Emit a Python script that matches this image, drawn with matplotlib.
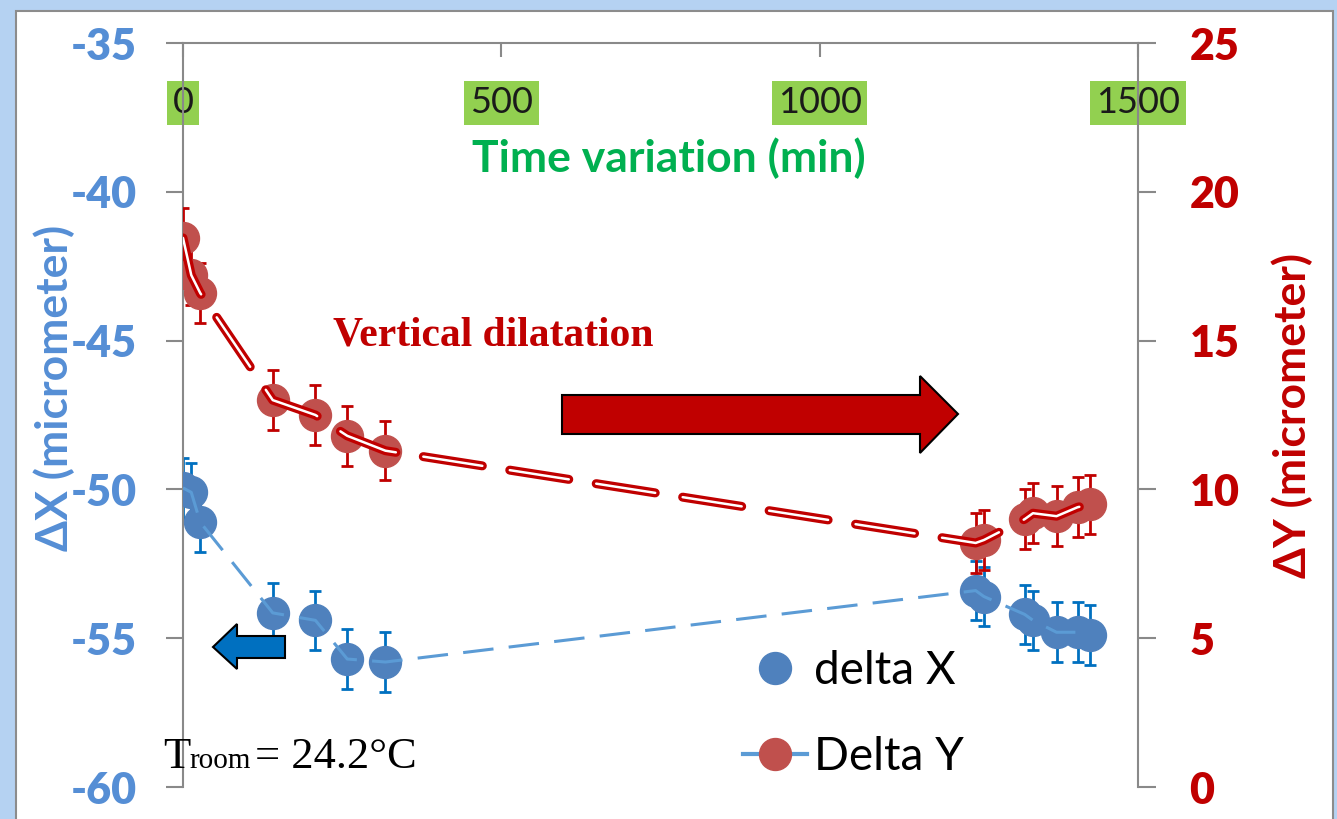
import matplotlib.pyplot as plt
from matplotlib.lines import Line2D
from matplotlib.patches import Polygon, Rectangle
import matplotlib.patheffects as pe

plt.rcParams['font.family'] = ['Lato', 'DejaVu Sans']
plt.rcParams['lines.scale_dashes'] = False
plt.rcParams['axes.unicode_minus'] = False

# data
time_min = [0, 13, 27, 141, 208, 258, 318, 1245, 1258, 1322, 1335, 1372, 1405, 1425]
delta_x = [-49.95, -50.1, -51.1, -54.15, -54.4, -55.7, -55.8,
           -53.4, -53.6, -54.2, -54.4, -54.8, -54.8, -54.9]
delta_y = [18.45, 17.2, 16.6, 13.0, 12.5, 11.8, 11.3,
           8.2, 8.3, 9.0, 9.2, 9.1, 9.4, 9.5]
err_x = 1.0
err_y = 1.0
x_ticks = [0, 500, 1000, 1500]
left_ticks = [-60, -55, -50, -45, -40, -35]
right_ticks = [0, 5, 10, 15, 20, 25]

W, H = 1337, 819


def px(x, y):
    # image pixel (from top-left) -> figure fraction
    return x / W, 1 - y / H


fig = plt.figure(figsize=(W / 100, H / 100), dpi=100)
fig.patch.set_facecolor('#B5D2F2')
fig.add_artist(Rectangle(px(16, 830), (1333 - 16) / W, (830 - 11) / H,
                         transform=fig.transFigure, facecolor='white',
                         edgecolor='#8C8C8C', lw=1.5, zorder=-1))

ax = fig.add_axes([183 / W, 1 - 787 / H, 955 / W, 744 / H])
ax2 = ax.twinx()
grey = '#898989'

# delta X (left axis)
ax.errorbar(time_min, delta_x, yerr=err_x, fmt='none', ecolor='#0070C0',
            elinewidth=2, capsize=4.5, capthick=2, zorder=2)
ax.plot(time_min, delta_x, 'o', ms=23, color='#4F81BD', zorder=3)
ax.plot(time_min, delta_x, color='#5B9BD5', lw=2.2, dashes=(22, 11), zorder=4)

# delta Y (right axis)
ax2.errorbar(time_min, delta_y, yerr=err_y, fmt='none', ecolor='#C00000',
             elinewidth=2, capsize=4.5, capthick=2, zorder=2)
ax2.plot(time_min, delta_y, 'o', ms=23, color='#C0504D', zorder=3)
ax2.plot(time_min, delta_y, color='white', lw=1.8, dashes=(43, 20),
         dash_capstyle='round', zorder=4,
         path_effects=[pe.Stroke(linewidth=6.5, foreground='#C00000'), pe.Normal()])

ax.set_xlim(0, 1500)
ax.set_ylim(-60, -35)
ax2.set_ylim(0, 25)

for s in ['bottom', 'right']:
    ax.spines[s].set_visible(False)
for s in ['top', 'left']:
    ax.spines[s].set_color(grey)
    ax.spines[s].set_linewidth(1.5)
for s in ['bottom', 'left', 'top']:
    ax2.spines[s].set_visible(False)
ax2.spines['right'].set_color(grey)
ax2.spines['right'].set_linewidth(1.5)

# top x axis with labels inside the plot
ax.xaxis.tick_top()
ax.set_xticks(x_ticks)
ax.tick_params(axis='x', direction='in', length=10, width=1.5, color=grey,
               pad=-55, labelsize=26, labelcolor='#1A1A1A')
for lab in ax.get_xticklabels():
    lab.set_bbox(dict(facecolor='#92D050', edgecolor='none', boxstyle='square,pad=0.16'))
ax.text(0.509, 0.8266, 'Time variation (min)', transform=ax.transAxes,
        ha='center', va='baseline', fontsize=32, fontweight='bold', color='#00B050')

ax.set_yticks(left_ticks)
ax.tick_params(axis='y', direction='out', length=12, width=1.5, color=grey,
               pad=21, labelsize=31, labelcolor='#558ED5')
for lab in ax.get_yticklabels():
    lab.set_fontweight('heavy')
ax2.set_yticks(right_ticks)
ax2.tick_params(axis='y', direction='out', length=13, width=1.5, color=grey,
                pad=24, labelsize=31, labelcolor='#C00000')
for lab in ax2.get_yticklabels():
    lab.set_fontweight('heavy')

ax.set_ylabel('ΔX (micrometer)', color='#558ED5', fontsize=32, fontweight='bold')
ax.yaxis.set_label_coords(-0.113, 0.536)
ax2.set_ylabel('ΔY (micrometer)', color='#C00000', fontsize=32, fontweight='bold')
ax2.yaxis.set_label_coords(1.140, 0.5)

# legend
handles = [Line2D([], [], marker='o', ls='none', ms=23, color='#4F81BD'),
           Line2D([], [], marker='o', ms=23, color='#5B9BD5', lw=3,
                  markerfacecolor='#C0504D', markeredgecolor='#C0504D')]
ax2.legend(handles, ['delta X', 'Delta Y'], loc='upper left',
           bbox_to_anchor=px(743, 650), bbox_transform=fig.transFigure,
           frameon=False, fontsize=33, handlelength=1.4, handletextpad=0.15,
           labelspacing=0.95, borderpad=0, borderaxespad=0)

# annotations
fig.text(*px(493, 345), 'Vertical dilatation', ha='center', va='baseline',
         family=['Liberation Serif'], fontweight='bold', fontsize=30, color='#C00000')
fig.text(*px(163, 768), 'T', ha='left', va='baseline',
         family=['Liberation Serif'], fontsize=32, color='black')
fig.text(*px(189, 768), 'room', ha='left', va='baseline',
         family=['Liberation Serif'], fontsize=21, color='black')
fig.text(*px(255, 768), '= 24.2°C', ha='left', va='baseline',
         family=['Liberation Serif'], fontsize=32, color='black')

red_arrow = [(562, 395), (920, 395), (920, 376), (958, 414), (920, 453),
             (920, 434), (562, 434)]
fig.add_artist(Polygon([px(*p) for p in red_arrow], closed=True,
                       transform=fig.transFigure, facecolor='#C00000',
                       edgecolor='black', lw=1.5, zorder=5))
blue_arrow = [(285, 636), (237, 636), (237, 624), (213, 647), (237, 669),
              (237, 658), (285, 658)]
fig.add_artist(Polygon([px(*p) for p in blue_arrow], closed=True,
                       transform=fig.transFigure, facecolor='#0070C0',
                       edgecolor='black', lw=1.5, zorder=5))

fig.savefig('out.png', dpi=100)
